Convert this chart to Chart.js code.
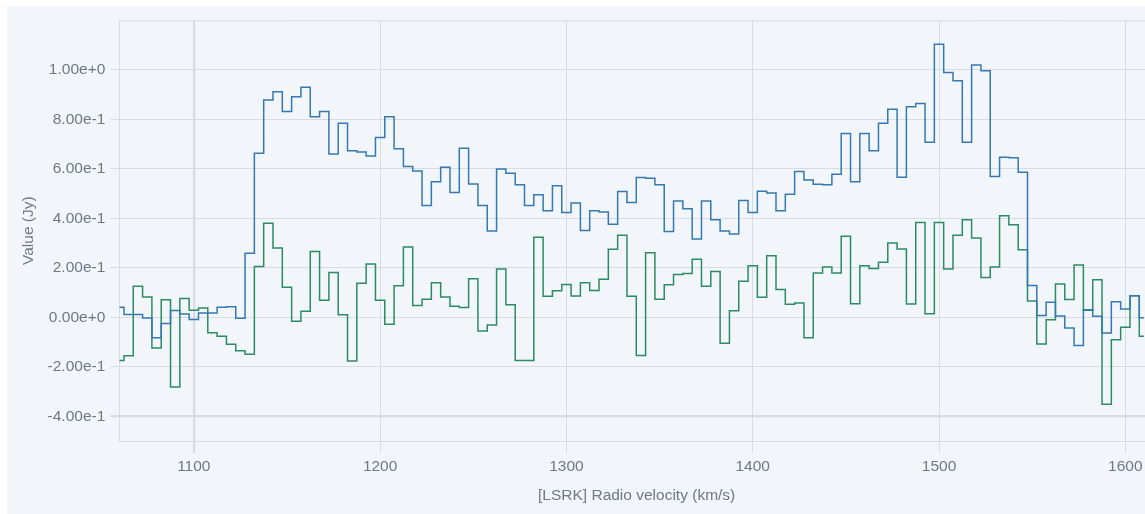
<!DOCTYPE html>
<html>
<head>
<meta charset="utf-8">
<script src="https://cdn.jsdelivr.net/npm/chart.js@4/dist/chart.umd.min.js"></script>
<style>
  html, body { margin: 0; padding: 0; background: #ffffff; overflow: hidden; }
  #wrap { position: absolute; left: 7px; top: 6px; width: 1147px; height: 508px; background: #f2f6fa; }
  canvas { display: block; }
</style>
</head>
<body>
<div id="wrap"><canvas id="spectrum" width="1147" height="508"></canvas></div>
<script>
// channel velocities (km/s)
const velocity = [
  1060, 1065, 1070, 1075, 1080, 1085, 1090, 1095, 1100, 1105,
  1110, 1115, 1120, 1125, 1130, 1135, 1140, 1145, 1150, 1155,
  1160, 1165, 1170, 1175, 1180, 1185, 1190, 1195, 1200, 1205,
  1210, 1215, 1220, 1225, 1230, 1235, 1240, 1245, 1250, 1255,
  1260, 1265, 1270, 1275, 1280, 1285, 1290, 1295, 1300, 1305,
  1310, 1315, 1320, 1325, 1330, 1335, 1340, 1345, 1350, 1355,
  1360, 1365, 1370, 1375, 1380, 1385, 1390, 1395, 1400, 1405,
  1410, 1415, 1420, 1425, 1430, 1435, 1440, 1445, 1450, 1455,
  1460, 1465, 1470, 1475, 1480, 1485, 1490, 1495, 1500, 1505,
  1510, 1515, 1520, 1525, 1530, 1535, 1540, 1545, 1550, 1555,
  1560, 1565, 1570, 1575, 1580, 1585, 1590, 1595, 1600, 1605,
  1610
];

// flux, blue spectrum (Jy)
const fluxBlue = [
  0.040, 0.011, 0.011, -0.003, -0.083, -0.025, 0.027, 0.013, -0.009, 0.017,
  0.017, 0.040, 0.042, -0.004, 0.259, 0.663, 0.878, 0.911, 0.831, 0.891,
  0.929, 0.810, 0.831, 0.660, 0.784, 0.673, 0.668, 0.652, 0.726, 0.810,
  0.681, 0.609, 0.591, 0.452, 0.548, 0.606, 0.504, 0.683, 0.539, 0.452,
  0.349, 0.599, 0.582, 0.535, 0.452, 0.495, 0.430, 0.531, 0.423, 0.462,
  0.351, 0.430, 0.425, 0.376, 0.508, 0.464, 0.565, 0.562, 0.535, 0.347,
  0.470, 0.438, 0.316, 0.470, 0.394, 0.349, 0.336, 0.472, 0.423, 0.509,
  0.502, 0.430, 0.497, 0.589, 0.555, 0.538, 0.535, 0.578, 0.743, 0.548,
  0.743, 0.673, 0.784, 0.841, 0.566, 0.851, 0.864, 0.707, 1.103, 0.989,
  0.956, 0.707, 1.019, 0.996, 0.569, 0.647, 0.645, 0.586, 0.128, 0.007,
  0.061, 0.005, -0.043, -0.114, 0.030, 0.004, -0.064, 0.063, 0.033, 0.087,
  -0.002
];

// flux, green spectrum (Jy)
const fluxGreen = [
  -0.175, -0.156, 0.125, 0.082, -0.124, 0.071, -0.282, 0.076, 0.028, 0.037,
  -0.063, -0.077, -0.109, -0.135, -0.149, 0.205, 0.380, 0.280, 0.121, -0.016,
  0.024, 0.266, 0.069, 0.181, 0.010, -0.177, 0.137, 0.215, 0.069, -0.028,
  0.127, 0.284, 0.048, 0.073, 0.139, 0.082, 0.045, 0.039, 0.156, -0.056,
  -0.031, 0.195, 0.051, -0.175, -0.175, 0.323, 0.085, 0.107, 0.132, 0.086,
  0.139, 0.108, 0.154, 0.275, 0.331, 0.085, -0.154, 0.261, 0.073, 0.131,
  0.173, 0.177, 0.234, 0.125, 0.185, -0.105, 0.026, 0.146, 0.208, 0.081,
  0.249, 0.112, 0.053, 0.058, -0.083, 0.179, 0.203, 0.179, 0.327, 0.055,
  0.208, 0.197, 0.222, 0.300, 0.276, 0.054, 0.383, 0.014, 0.383, 0.195,
  0.331, 0.394, 0.320, 0.161, 0.203, 0.410, 0.374, 0.273, 0.066, -0.108,
  -0.010, 0.134, 0.072, 0.211, 0.028, 0.152, -0.352, -0.091, -0.040, 0.087,
  -0.077
];

const xTicks = [1100, 1200, 1300, 1400, 1500, 1600];
const yTicks = [-0.4, -0.2, 0, 0.2, 0.4, 0.6, 0.8, 1.0];

const gridColor = "#d6dce2";
const textColor = "#6f7883";
const font = { family: "'Liberation Sans', Arial, sans-serif", size: 15.5 };

// thin frame along the top of the plot area
const frame = {
  id: "frame",
  afterDraw(chart) {
    const { ctx, chartArea } = chart;
    ctx.save();
    ctx.strokeStyle = gridColor;
    ctx.lineWidth = 1;
    ctx.beginPath();
    ctx.moveTo(chartArea.left, chartArea.top + 0.5);
    ctx.lineTo(chartArea.right, chartArea.top + 0.5);
    ctx.stroke();
    ctx.restore();
  }
};

const toPoints = ys => velocity.map((v, i) => ({ x: v, y: ys[i] }));

new Chart(document.getElementById("spectrum"), {
  type: "line",
  data: {
    datasets: [
      {
        data: toPoints(fluxBlue),
        borderColor: "#3479b1",
        borderWidth: 1.5,
        stepped: "middle",
        pointRadius: 0,
        fill: false
      },
      {
        data: toPoints(fluxGreen),
        borderColor: "#2b8b63",
        borderWidth: 1.5,
        stepped: "middle",
        pointRadius: 0,
        fill: false
      }
    ]
  },
  options: {
    responsive: false,
    animation: false,
    layout: { padding: { top: 12, right: 0, bottom: 0, left: 0 } },
    plugins: { legend: { display: false }, tooltip: { enabled: false } },
    scales: {
      x: {
        type: "linear",
        min: 1060,
        max: 1615.4,
        afterBuildTicks: s => { s.ticks = xTicks.map(v => ({ value: v })); },
        afterFit: s => { s.height = 73; },
        ticks: {
          color: textColor,
          font,
          padding: 4,
          maxRotation: 0,
          callback: v => String(v)
        },
        grid: {
          color: gridColor,
          tickLength: 12,
          lineWidth: c => (c.tick && c.tick.value === 1100 ? 2.2 : 1)
        },
        border: { color: gridColor },
        title: {
          display: true,
          text: "[LSRK] Radio velocity (km/s)",
          color: textColor,
          font,
          padding: { top: 0, bottom: 9 }
        }
      },
      y: {
        min: -0.5,
        max: 1.2,
        afterBuildTicks: s => { s.ticks = yTicks.map(v => ({ value: v })); },
        afterFit: s => { s.width = 112.3; },
        ticks: {
          color: textColor,
          font,
          padding: 5,
          callback: v => Number(v).toExponential(2)
        },
        grid: {
          color: gridColor,
          tickLength: 9,
          lineWidth: c => (c.tick && Math.abs(c.tick.value + 0.4) < 1e-9 ? 2.2 : 1)
        },
        border: { color: gridColor },
        title: {
          display: true,
          text: "Value (Jy)",
          color: textColor,
          font,
          padding: { top: 12, bottom: 0 }
        }
      }
    }
  },
  plugins: [frame]
});
</script>
</body>
</html>
